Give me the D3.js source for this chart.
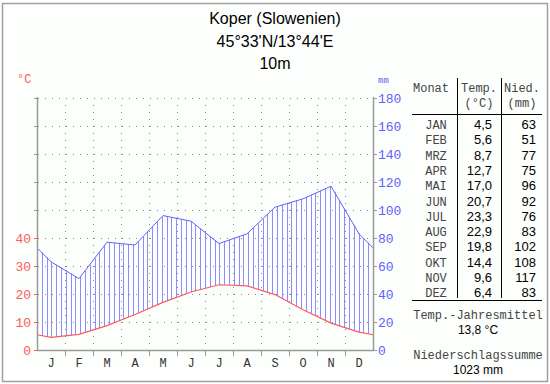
<!DOCTYPE html>
<html>
<head>
<meta charset="utf-8">
<script src="https://cdn.jsdelivr.net/npm/d3@7"></script>
<style>
  body { margin: 0; background: #fff; }
  svg { display: block; }
</style>
</head>
<body>
<svg id="chart" width="550" height="384"></svg>
<script>
// Climate data for Koper
const months = ["JAN", "FEB", "MRZ", "APR", "MAI", "JUN", "JUL", "AUG", "SEP", "OKT", "NOV", "DEZ"];
const monthLetters = ["J", "F", "M", "A", "M", "J", "J", "A", "S", "O", "N", "D"];
const temps = [4.5, 5.6, 8.7, 12.7, 17.0, 20.7, 23.3, 22.9, 19.8, 14.4, 9.6, 6.4];
const precip = [63, 51, 77, 75, 96, 92, 76, 83, 102, 108, 117, 83];
const tempTicks = [0, 10, 20, 30, 40];
const precipTicks = [0, 20, 40, 60, 80, 100, 120, 140, 160, 180];
const titleLines = ["Koper (Slowenien)", "45°33'N/13°44'E", "10m"];
const meanTemp = "13,8 °C";
const sumPrecip = "1023 mm";

const fmt = v => d3.format(".1f")(v).replace(".", ",");

const svg = d3.select("#chart");
const mono = "'Liberation Mono', 'DejaVu Sans Mono', monospace";
const sans = "'Liberation Sans', Arial, sans-serif";
const red = "#ff5a5a";
const blue = "#6060ff";

// outer frame
svg.append("rect").attr("x", 2.5).attr("y", 3.5).attr("width", 545).attr("height", 378)
    .attr("fill", "#fdfffd").attr("stroke", "#a0a0a0").attr("stroke-width", 1.5);

// title
svg.selectAll("text.title").data(titleLines).join("text")
    .attr("x", 275).attr("y", (d, i) => 24 + i * 22.5)
    .attr("text-anchor", "middle")
    .style("font", `16px ${sans}`).attr("fill", "#000")
    .text(d => d);

// scales
const left = 37, right = 373;
const x = d3.scaleLinear().domain([0, 12]).range([left, right]);
const yP = d3.scaleLinear().domain([0, 180]).range([350, 98]);
const yT = d3.scaleLinear().domain([0, 90]).range([350, 98]);

// grid (dotted)
const grid = svg.append("g").attr("stroke", "#888").attr("stroke-width", 1)
    .attr("stroke-dasharray", "1,6");
grid.selectAll("line.h").data(precipTicks.slice(1)).join("line")
    .attr("x1", left + 1).attr("x2", right)
    .attr("y1", d => yP(d) + 0.5).attr("y2", d => yP(d) + 0.5);
grid.selectAll("line.v").data(d3.range(1, 12)).join("line")
    .attr("x1", d => x(d) + 0.5).attr("x2", d => x(d) + 0.5)
    .attr("y1", yP(180) + 7).attr("y2", 350);

// wrap-around series: values at month centers plus the edges
function series(vals) {
    const edge = (vals[0] + vals[11]) / 2;
    return [[0, edge], ...vals.map((v, i) => [i + 0.5, v]), [12, edge]];
}
const tSeries = series(temps);
const pSeries = series(precip);
const interp = (s, m) => {
    const i = Math.min(s.length - 2, d3.bisector(d => d[0]).right(s, m) - 1);
    const a = s[Math.max(0, i)], b = s[Math.max(0, i) + 1];
    return a[1] + (b[1] - a[1]) * (m - a[0]) / (b[0] - a[0]);
};

// hatching between temperature and precipitation
const hatchX = d3.range(0, 12.001, 12 / 70);
svg.append("g").attr("stroke", "#8c8cff").attr("stroke-width", 1)
    .selectAll("line").data(hatchX).join("line")
    .attr("x1", d => Math.round(x(d)) + 0.5).attr("x2", d => Math.round(x(d)) + 0.5)
    .attr("y1", d => yT(interp(tSeries, d)))
    .attr("y2", d => yP(interp(pSeries, d)));

// lines
svg.append("path").datum(pSeries)
    .attr("d", d3.line().x(d => x(d[0])).y(d => yP(d[1])))
    .attr("fill", "none").attr("stroke", blue).attr("stroke-width", 1);
svg.append("path").datum(tSeries)
    .attr("d", d3.line().x(d => x(d[0])).y(d => yT(d[1])))
    .attr("fill", "none").attr("stroke", red).attr("stroke-width", 1.2);

// axes lines
const axisCol = "#9a9a9a";
svg.append("line").attr("x1", left + 0.5).attr("x2", left + 0.5).attr("y1", 97).attr("y2", 351)
    .attr("stroke", axisCol).attr("stroke-width", 1.5);
svg.append("line").attr("x1", right + 0.5).attr("x2", right + 0.5).attr("y1", 97).attr("y2", 351)
    .attr("stroke", axisCol).attr("stroke-width", 1.5);
svg.append("line").attr("x1", left).attr("x2", right + 1).attr("y1", 350.5).attr("y2", 350.5)
    .attr("stroke", axisCol).attr("stroke-width", 1.5);

// left ticks (red for temperature labels, gray above)
svg.append("g").selectAll("line").data(precipTicks).join("line")
    .attr("x1", left - 3).attr("x2", left)
    .attr("y1", d => yP(d) + 0.5).attr("y2", d => yP(d) + 0.5)
    .attr("stroke", d => d <= 80 ? red : axisCol);
svg.append("g").selectAll("text").data(tempTicks).join("text")
    .attr("x", 31).attr("y", d => yT(d) + 5)
    .attr("text-anchor", "end")
    .style("font", `13px ${mono}`).attr("fill", red)
    .text(d => d);
svg.append("text").attr("x", 17).attr("y", 83)
    .style("font", `12px ${mono}`).attr("fill", red).text("°C");

// right ticks and labels
svg.append("g").selectAll("line").data(precipTicks).join("line")
    .attr("x1", right).attr("x2", right + 4)
    .attr("y1", d => yP(d) + 0.5).attr("y2", d => yP(d) + 0.5)
    .attr("stroke", axisCol);
svg.append("g").selectAll("text").data(precipTicks).join("text")
    .attr("x", 378).attr("y", d => yP(d) + 5)
    .style("font", `13px ${mono}`).attr("fill", blue)
    .text(d => d);
svg.append("text").attr("x", 378).attr("y", 83)
    .style("font", `9px ${mono}`).attr("fill", blue).text("mm");

// month ticks and labels
svg.append("g").selectAll("line").data(d3.range(1, 12)).join("line")
    .attr("x1", d => x(d) + 0.5).attr("x2", d => x(d) + 0.5)
    .attr("y1", 350).attr("y2", 356)
    .attr("stroke", axisCol);
svg.append("g").selectAll("text").data(monthLetters).join("text")
    .attr("x", (d, i) => x(i + 0.5)).attr("y", 367)
    .attr("text-anchor", "middle")
    .style("font", `12px ${mono}`).attr("fill", "#333")
    .text(d => d);

// table
const tbl = svg.append("g");
const rowY = i => 129 + i * 15.3;
const tcol = "#444";
tbl.append("line").attr("x1", 457.5).attr("x2", 457.5).attr("y1", 78).attr("y2", 298).attr("stroke", "#000");
tbl.append("line").attr("x1", 501.5).attr("x2", 501.5).attr("y1", 78).attr("y2", 298).attr("stroke", "#000");
tbl.append("line").attr("x1", 412).attr("x2", 542).attr("y1", 114.5).attr("y2", 114.5).attr("stroke", "#000");
tbl.append("line").attr("x1", 412).attr("x2", 542).attr("y1", 300.5).attr("y2", 300.5).attr("stroke", "#000");

tbl.append("text").attr("x", 413).attr("y", 92).style("font", `12px ${mono}`).attr("fill", tcol).text("Monat");
tbl.append("text").attr("x", 479).attr("y", 92).attr("text-anchor", "middle")
    .style("font", `12px ${mono}`).attr("fill", tcol).text("Temp.");
tbl.append("text").attr("x", 479).attr("y", 107).attr("text-anchor", "middle")
    .style("font", `12px ${mono}`).attr("fill", tcol).text("(°C)");
tbl.append("text").attr("x", 522).attr("y", 92).attr("text-anchor", "middle")
    .style("font", `12px ${mono}`).attr("fill", tcol).text("Nied.");
tbl.append("text").attr("x", 522).attr("y", 107).attr("text-anchor", "middle")
    .style("font", `12px ${mono}`).attr("fill", tcol).text("(mm)");

tbl.selectAll("text.m").data(months).join("text")
    .attr("x", 436).attr("y", (d, i) => rowY(i)).attr("text-anchor", "middle")
    .style("font", `12px ${mono}`).attr("fill", tcol).text(d => d);
tbl.selectAll("text.t").data(temps).join("text")
    .attr("x", 492).attr("y", (d, i) => rowY(i)).attr("text-anchor", "end")
    .style("font", `13px ${sans}`).attr("fill", "#000").text(d => fmt(d));
tbl.selectAll("text.p").data(precip).join("text")
    .attr("x", 536).attr("y", (d, i) => rowY(i)).attr("text-anchor", "end")
    .style("font", `13px ${sans}`).attr("fill", "#000").text(d => d);

// footer
tbl.append("text").attr("x", 478).attr("y", 319).attr("text-anchor", "middle")
    .style("font", `12px ${mono}`).attr("fill", tcol).text("Temp.-Jahresmittel");
tbl.append("text").attr("x", 478).attr("y", 334).attr("text-anchor", "middle")
    .style("font", `12px ${sans}`).attr("fill", "#000").text(meanTemp);
tbl.append("text").attr("x", 478).attr("y", 359).attr("text-anchor", "middle")
    .style("font", `12px ${mono}`).attr("fill", tcol).text("Niederschlagssumme");
tbl.append("text").attr("x", 478).attr("y", 374).attr("text-anchor", "middle")
    .style("font", `12px ${sans}`).attr("fill", "#000").text(sumPrecip);
</script>
</body>
</html>
